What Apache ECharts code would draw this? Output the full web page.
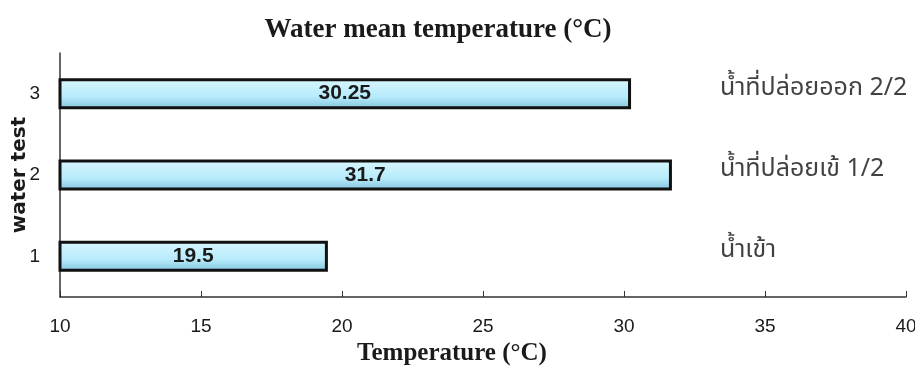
<!DOCTYPE html>
<html><head><meta charset="utf-8">
<script src="https://cdn.jsdelivr.net/npm/echarts@6/dist/echarts.min.js"></script>
<style>html,body{margin:0;padding:0;background:#fff}#c{width:915px;height:366px}</style>
</head><body><div id="c"></div>
<script>
const categories = ['1', '2', '3'];
const values = [19.5, 31.7, 30.25];
const thaiLabels = ['น้ำเข้า', 'น้ำที่ปล่อยเข้ 1/2', 'น้ำที่ปล่อยออก 2/2'];
const xTicks = [10, 15, 20, 25, 30, 35, 40];

const chart = echarts.init(document.getElementById('c'));
chart.setOption({
  animation: false,
  backgroundColor: '#fff',
  title: {
    text: 'Water mean temperature (°C)',
    left: 433, top: 12, textAlign: 'center',
    textStyle: { fontFamily: 'Liberation Serif', fontWeight: 'bold', fontSize: 27, color: '#1a1a1a' }
  },
  grid: { left: 60, right: 9, top: 53, bottom: 69, outerBoundsMode: 'none', containLabel: false },
  xAxis: {
    type: 'value', min: xTicks[0], max: xTicks[xTicks.length - 1], interval: 5,
    name: 'Temperature (°C)', nameLocation: 'middle', nameGap: 44,
    nameTextStyle: { fontFamily: 'Liberation Serif', fontWeight: 'bold', fontSize: 25, color: '#1a1a1a', padding: [0, 62, 0, 0] },
    axisLine: { show: true, lineStyle: { color: '#333', width: 1.5 } },
    axisTick: { show: true, inside: true, length: 6, lineStyle: { color: '#333' } },
    axisLabel: { fontFamily: 'Liberation Sans', fontSize: 19, color: '#1a1a1a', margin: 20 },
    splitLine: { show: false }
  },
  yAxis: {
    type: 'category', data: categories,
    name: 'water test', nameLocation: 'middle', nameGap: 30, nameRotate: 90, nameMoveOverlap: false,
    nameTextStyle: { fontFamily: 'DejaVu Sans', fontWeight: 'bold', fontSize: 20, color: '#1a1a1a' },
    axisLine: { show: true, lineStyle: { color: '#333', width: 1.5 } },
    axisTick: { show: false },
    axisLabel: { fontFamily: 'Liberation Sans', fontSize: 19, color: '#1a1a1a', margin: 20 }
  },
  series: [
    {
      type: 'bar', data: values, barWidth: 31,
      itemStyle: {
        color: new echarts.graphic.LinearGradient(0, 0, 0, 1, [
          { offset: 0, color: '#d9f6ff' },
          { offset: 0.6, color: '#b7ebfb' },
          { offset: 1, color: '#7fc3dc' }
        ]),
        borderColor: '#111', borderWidth: 3
      },
      label: {
        show: true, position: 'inside',
        fontFamily: 'Liberation Sans', fontWeight: 'bold', fontSize: 21, color: '#1a1a1a'
      }
    },
    {
      type: 'scatter', symbolSize: 0, silent: true,
      data: categories.map((c, i) => [33.4, c]),
      label: {
        show: true, position: 'right', distance: 0, offset: [0, -4],
        formatter: p => thaiLabels[p.dataIndex],
        fontFamily: 'Noto Sans Thai, Noto Sans, Liberation Serif', fontSize: 25, color: '#111'
      }
    }
  ]
});
</script></body></html>
